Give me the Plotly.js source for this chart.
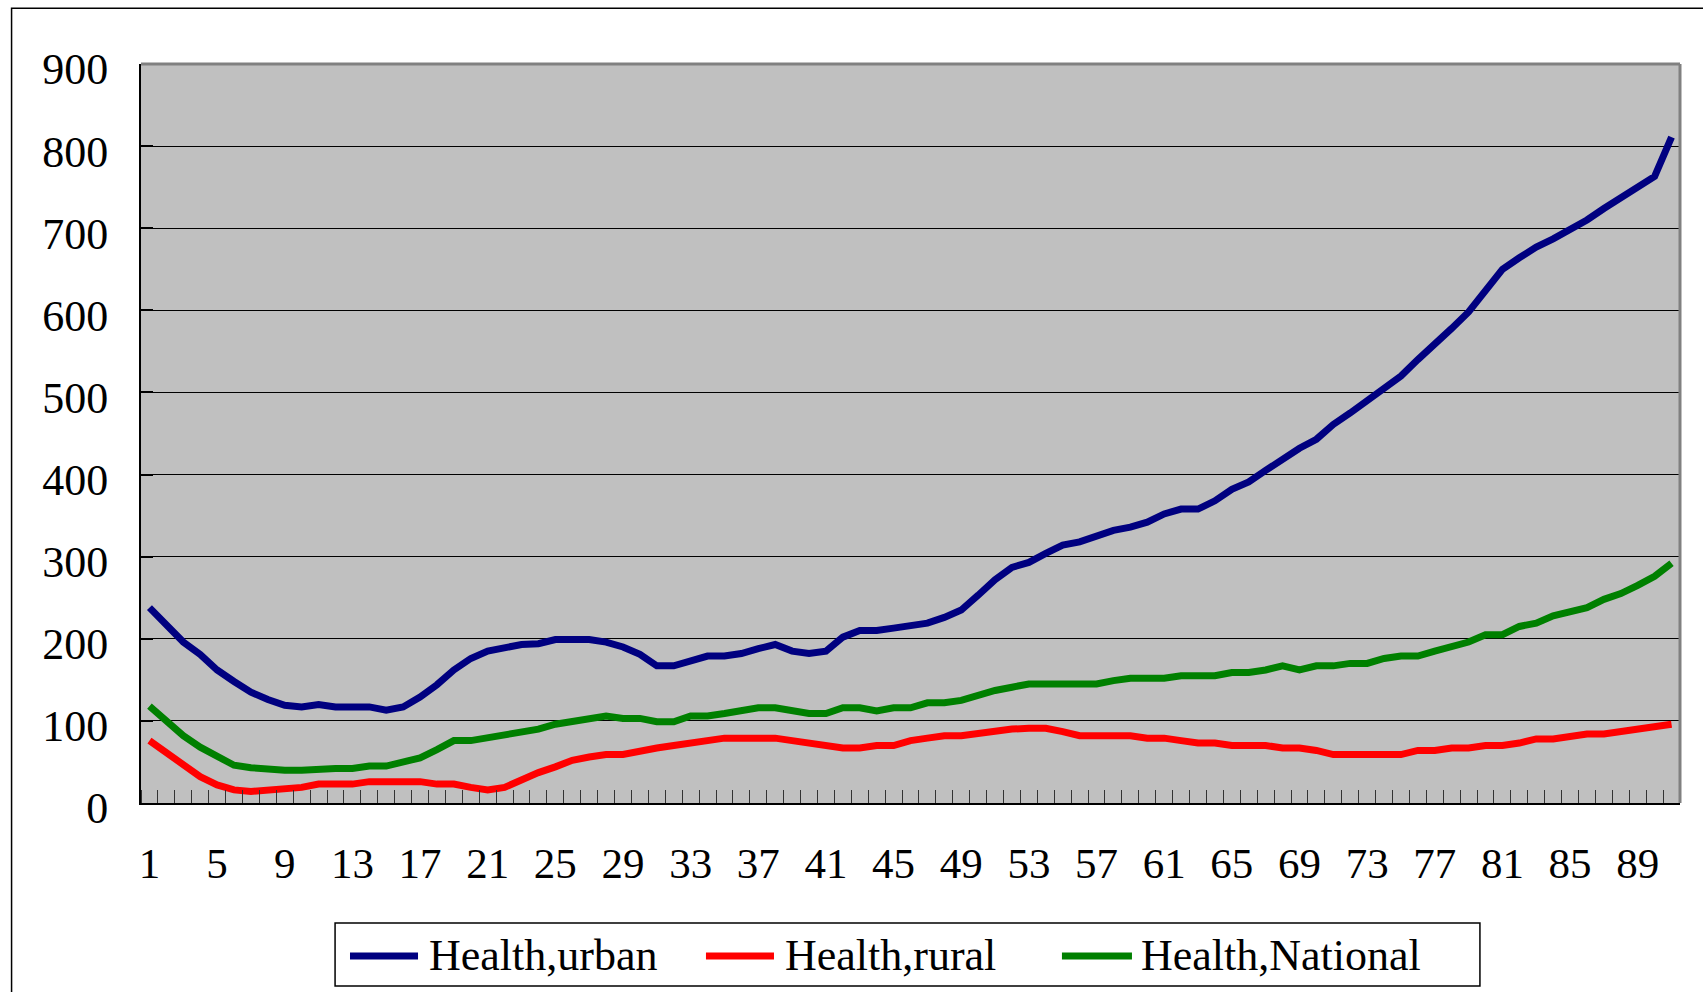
<!DOCTYPE html>
<html>
<head>
<meta charset="utf-8">
<script src="https://cdn.plot.ly/plotly-3.0.1.min.js"></script>
<style>html,body{margin:0;padding:0;background:#fff;}#chart{width:1703px;height:992px;}</style>
</head>
<body>
<div id="chart"></div>
<script>
// ---- data ----
const categories = [1,2,3,4,5,6,7,8,9,10,11,12,13,14,15,16,17,18,19,20,21,22,23,24,25,26,27,28,29,30,31,32,33,34,35,36,37,38,39,40,41,42,43,44,45,46,47,48,49,50,51,52,53,54,55,56,57,58,59,60,61,62,63,64,65,66,67,68,69,70,71,72,73,74,75,76,77,78,79,80,81,82,83,84,85,86,87,88,89,90,91];
const seriesNames = ["Health,urban", "Health,rural", "Health,National"];
const healthUrban = [238,217,196,181,162,148,135,126,119,117,120,117,117,117,113,117,129,144,162,176,185,190,193,194,199,199,199,196,190,181,167,167,173,179,179,182,188,193,185,182,185,202,210,210,213,215,219,226,235,253,272,287,293,304,314,318,326,332,336,342,352,358,358,368,382,391,405,419,432,443,461,475,490,506,520,540,558,578,598,623,650,664,677,687,698,710,724,737,751,763,811];
const healthRural = [76,61,45,32,22,16,14,16,16,19,23,23,23,26,26,26,26,23,23,19,16,19,29,37,44,52,56,59,59,64,67,70,73,78,79,79,79,79,76,73,70,67,67,70,70,76,79,82,82,85,89,90,91,91,87,82,82,82,82,79,79,76,73,73,70,70,70,67,67,64,59,59,59,59,59,64,64,67,67,70,70,73,78,78,81,84,84,87,90,93,96];
const healthNational = [118,100,82,68,56,46,43,41,40,40,42,42,42,45,45,49,55,65,76,76,79,82,85,90,96,100,104,106,103,103,99,99,106,106,109,112,116,116,112,109,109,116,116,112,116,116,122,122,125,132,137,141,145,145,145,145,145,149,152,152,152,155,155,155,159,159,162,167,162,167,167,170,170,176,179,179,185,190,196,205,205,215,219,228,232,238,248,255,265,276,292];
const xTickVals = [1,5,9,13,17,21,25,29,33,37,41,45,49,53,57,61,65,69,73,77,81,85,89];
const xTickLabels = ["1","5","9","13","17","21","25","29","33","37","41","45","49","53","57","61","65","69","73","77","81","85","89"];
const yTickVals = [0,100,200,300,400,500,600,700,800,900];
const yTickLabels = ["0","100","200","300","400","500","600","700","800","900"];

// ---- styles ----
const colors = ["#000080", "#FF0000", "#008000"];
const FONT = "Liberation Serif";
const seriesValues = [healthUrban, healthRural, healthNational];

const traces = seriesValues.map((vals, i) => ({
  type: "scatter", mode: "lines", x: categories, y: vals, name: seriesNames[i],
  line: {color: colors[i], width: 7}, showlegend: false, hoverinfo: "x+y+name"
}));

// custom legend (paper coords)
const legLineX = [[0.1358, 0.1800], [0.3671, 0.4113], [0.5984, 0.6439]];
const legTextX = [0.1858, 0.4172, 0.6485];
const legY = -0.207;

const shapes = [
  {type: "rect", xref: "paper", yref: "paper", x0: -0.0841, x1: 1.03, y0: -0.30, y1: 1.0754,
   line: {color: "#000", width: 1.5}, fillcolor: "rgba(0,0,0,0)", layer: "below"},
  {type: "line", xref: "paper", yref: "paper", x0: 0, x1: 1, y0: 1, y1: 1, line: {color: "#808080", width: 3}, layer: "above"},
  {type: "line", xref: "paper", yref: "paper", x0: 1, x1: 1, y0: 0, y1: 1, line: {color: "#808080", width: 3}, layer: "above"},
  {type: "rect", xref: "paper", yref: "paper", x0: 0.1261, x1: 0.8700, y0: -0.2476, y1: -0.1624,
   line: {color: "#000", width: 1.5}, fillcolor: "#fff", layer: "below"}
];
legLineX.forEach((lx, i) => shapes.push({type: "line", xref: "paper", yref: "paper",
  x0: lx[0], x1: lx[1], y0: legY, y1: legY, line: {color: colors[i], width: 7}}));

const annotations = seriesNames.map((n, i) => ({
  xref: "paper", yref: "paper", x: legTextX[i], y: legY, xanchor: "left", yanchor: "middle",
  text: n, showarrow: false, font: {family: FONT, size: 44, color: "#000"}
}));

const layout = {
  width: 1703, height: 992,
  margin: {l: 141, r: 23, t: 64, b: 189, pad: 0},
  paper_bgcolor: "#fff", plot_bgcolor: "#C0C0C0",
  showlegend: false,
  font: {family: FONT, color: "#000"},
  xaxis: {
    type: "linear", range: [0.5, 91.5], autorange: false,
    tickmode: "array", tickvals: xTickVals, ticktext: xTickLabels,
    ticks: "", showgrid: false, zeroline: false,
    showline: true, linecolor: "#000", linewidth: 2,
    tickfont: {family: FONT, size: 43, color: "#000"},
    ticklabelstandoff: 21,
    minor: {ticks: "inside", ticklen: 13, tickwidth: 1, tickcolor: "#333", tickmode: "linear", tick0: 0.5, dtick: 1, showgrid: false}
  },
  yaxis: {
    range: [0, 900], autorange: false,
    tickmode: "array", tickvals: yTickVals, ticktext: yTickLabels,
    ticks: "inside", ticklen: 12, tickwidth: 2, tickcolor: "#000",
    showgrid: true, gridcolor: "#000", gridwidth: 1, zeroline: false,
    showline: true, linecolor: "#000", linewidth: 2,
    tickfont: {family: FONT, size: 44, color: "#000"},
    ticklabelstandoff: 22,
    ticklabelshift: 5
  },
  shapes: shapes,
  annotations: annotations
};

Plotly.newPlot("chart", traces, layout, {displayModeBar: false});
</script>
</body>
</html>
